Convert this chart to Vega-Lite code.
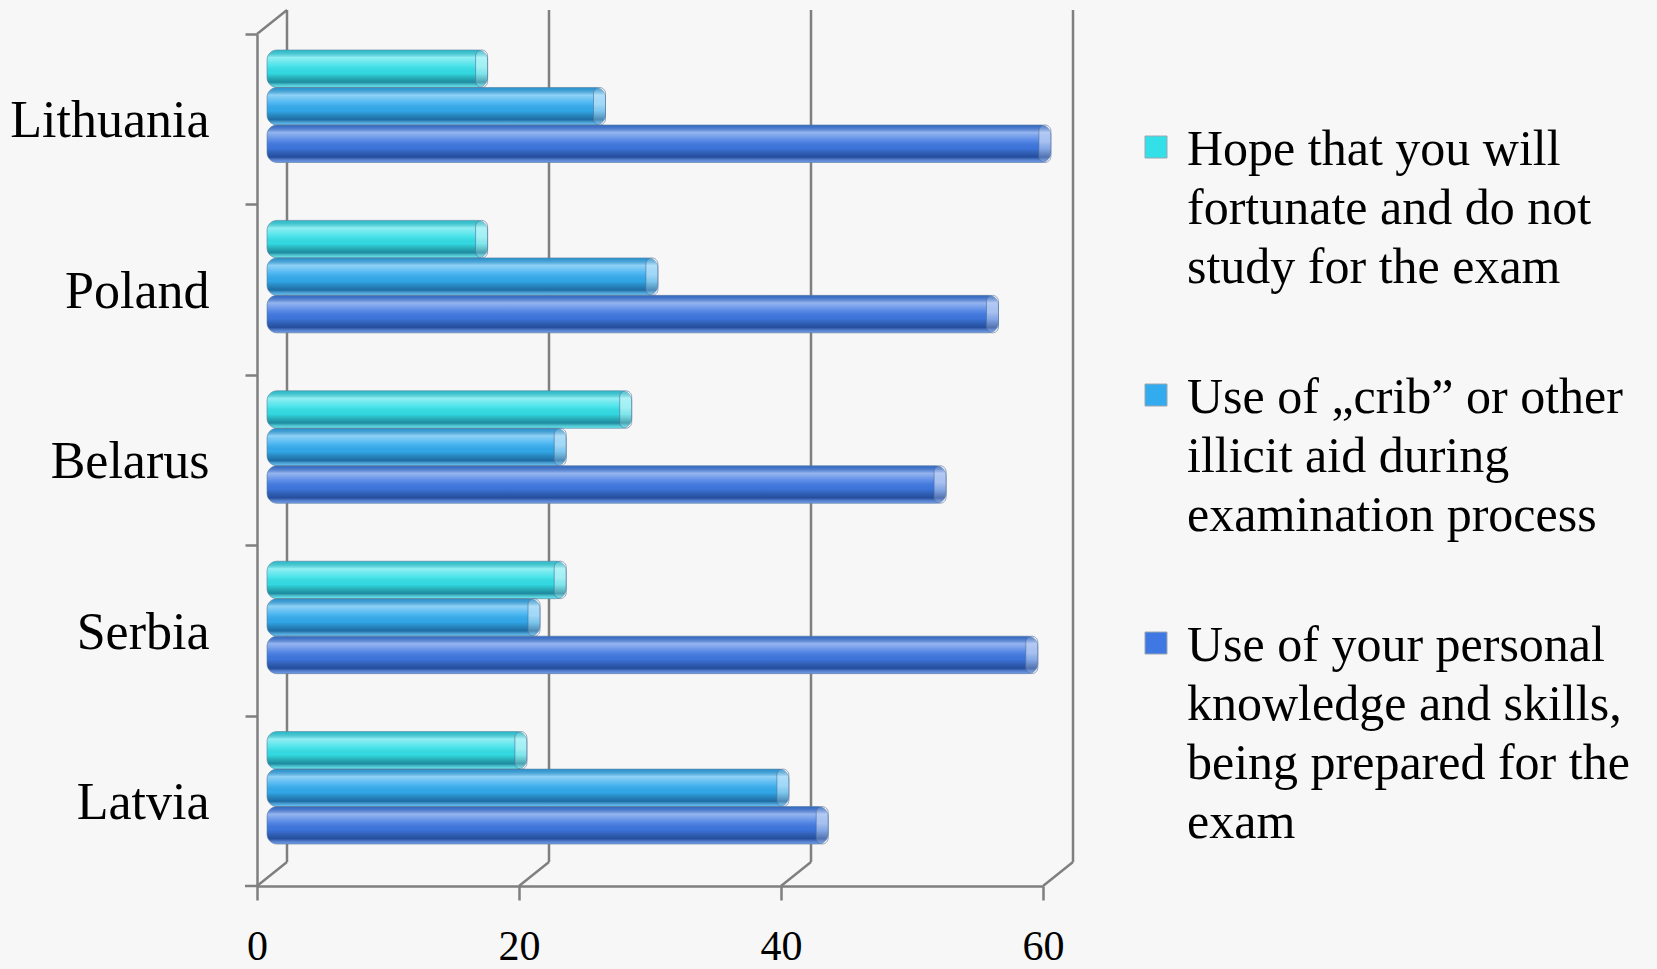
{
  "$schema": "https://vega.github.io/schema/vega-lite/v6.json",
  "width": 786,
  "height": 852,
  "autosize": {"type": "none"},
  "padding": {"left": 257, "top": 34, "right": 614, "bottom": 83},
  "background": "#f7f7f7",
  "datasets": {
    "answers": [
      {"country": "Lithuania", "series": "Hope that you will fortunate and do not study for the exam", "value": 16},
      {"country": "Lithuania", "series": "Use of „crib” or other illicit aid during examination process", "value": 25},
      {"country": "Lithuania", "series": "Use of your personal knowledge and skills, being prepared for the exam", "value": 59},
      {"country": "Poland", "series": "Hope that you will fortunate and do not study for the exam", "value": 16},
      {"country": "Poland", "series": "Use of „crib” or other illicit aid during examination process", "value": 29},
      {"country": "Poland", "series": "Use of your personal knowledge and skills, being prepared for the exam", "value": 55},
      {"country": "Belarus", "series": "Hope that you will fortunate and do not study for the exam", "value": 27},
      {"country": "Belarus", "series": "Use of „crib” or other illicit aid during examination process", "value": 22},
      {"country": "Belarus", "series": "Use of your personal knowledge and skills, being prepared for the exam", "value": 51},
      {"country": "Serbia", "series": "Hope that you will fortunate and do not study for the exam", "value": 22},
      {"country": "Serbia", "series": "Use of „crib” or other illicit aid during examination process", "value": 20},
      {"country": "Serbia", "series": "Use of your personal knowledge and skills, being prepared for the exam", "value": 58},
      {"country": "Latvia", "series": "Hope that you will fortunate and do not study for the exam", "value": 19},
      {"country": "Latvia", "series": "Use of „crib” or other illicit aid during examination process", "value": 39},
      {"country": "Latvia", "series": "Use of your personal knowledge and skills, being prepared for the exam", "value": 42}
    ],
    "ticks": [{"v": 0}, {"v": 20}, {"v": 40}, {"v": 60}]
  },
  "config": {
    "font": "Liberation Serif",
    "view": {"stroke": null},
    "axis": {
      "domainColor": "#7f7f7f",
      "domainWidth": 2.5,
      "tickColor": "#7f7f7f",
      "tickWidth": 2.5,
      "labelFont": "Liberation Serif",
      "labelColor": "#000000",
      "grid": false,
      "title": null
    },
    "axisX": {"tickSize": 14, "labelPadding": 46, "labelBaseline": "middle", "labelFlush": false, "labelFontSize": 42},
    "axisY": {"tickSize": 12, "labelPadding": 36, "labelFontSize": 52, "labelLimit": 400},
    "legend": {
      "orient": "none",
      "legendX": 874,
      "legendY": 88,
      "title": null,
      "padding": 0,
      "symbolType": "square",
      "symbolSize": 484,
      "symbolStrokeColor": "#9aa6b0",
      "symbolStrokeWidth": 1,
      "labelFont": "Liberation Serif",
      "labelFontSize": 50,
      "labelColor": "#000000",
      "labelLimit": 600,
      "labelOffset": 6,
      "labelBaseline": "top",
      "rowPadding": 77
    }
  },
  "layer": [
    {
      "data": {"name": "ticks"},
      "mark": {"type": "rule", "color": "#7f7f7f", "strokeWidth": 2.5, "xOffset": 30, "yOffset": -24, "y2Offset": -24},
      "encoding": {
        "x": {"field": "v", "type": "quantitative", "axis": {"title": null}},
        "y": {"value": 0},
        "y2": {"value": "height"}
      }
    },
    {
      "data": {"name": "ticks"},
      "mark": {"type": "rule", "color": "#7f7f7f", "strokeWidth": 2.5, "x2Offset": 30, "y2Offset": -24},
      "encoding": {
        "x": {"field": "v", "type": "quantitative", "axis": {"title": null}},
        "x2": {"field": "v"},
        "y": {"value": "height"},
        "y2": {"value": "height"}
      }
    },
    {
      "data": {"name": "ticks"},
      "transform": [{"filter": "datum.v == 0"}],
      "mark": {"type": "rule", "color": "#7f7f7f", "strokeWidth": 2.5, "x2Offset": 30, "y2Offset": -24},
      "encoding": {
        "x": {"field": "v", "type": "quantitative", "axis": {"title": null}},
        "x2": {"field": "v"},
        "y": {"value": 0},
        "y2": {"value": 0}
      }
    },
    {
      "data": {"name": "ticks"},
      "transform": [{"filter": "datum.v == 0"}],
      "mark": {"type": "rule", "color": "#7f7f7f", "strokeWidth": 2.5, "xOffset": -12},
      "encoding": {
        "x": {"field": "v", "type": "quantitative", "axis": {"title": null}},
        "x2": {"field": "v"},
        "y": {"value": "height"},
        "y2": {"value": "height"}
      }
    },
    {
      "data": {"name": "answers"},
      "mark": {"type": "bar", "cornerRadius": 10, "xOffset": 21, "x2Offset": 10},
      "encoding": {
        "y": {
          "field": "country", "type": "nominal",
          "sort": ["Lithuania", "Poland", "Belarus", "Serbia", "Latvia"],
          "scale": {"paddingInner": 0.34, "paddingOuter": 0.17, "align": 0.276},
          "axis": {"title": null, "bandPosition": 0, "tickOffset": -16, "labelOffset": 30.75}
        },
        "yOffset": {
          "field": "series", "type": "nominal",
          "sort": [
            "Hope that you will fortunate and do not study for the exam",
            "Use of „crib” or other illicit aid during examination process",
            "Use of your personal knowledge and skills, being prepared for the exam"
          ],
          "scale": {"paddingInner": 0, "paddingOuter": 0}
        },
        "x": {
          "field": "value", "type": "quantitative", "stack": null,
          "scale": {"domain": [0, 60], "nice": false},
          "axis": {"title": null, "values": [0, 20, 40, 60]}
        },
        "x2": {"datum": 0},
        "color": {
          "field": "series", "type": "nominal",
          "sort": [
            "Hope that you will fortunate and do not study for the exam",
            "Use of „crib” or other illicit aid during examination process",
            "Use of your personal knowledge and skills, being prepared for the exam"
          ],
          "scale": {"range": ["#34e0e8", "#33acef", "#3f78e2"]},
          "legend": {
            "labelExpr": "datum.label == 'Hope that you will fortunate and do not study for the exam' ? ['Hope that you will', 'fortunate and do not', 'study for the exam'] : datum.label == 'Use of „crib” or other illicit aid during examination process' ? ['Use of „crib” or other', 'illicit aid during', 'examination process'] : ['\u2002Use of your personal', 'knowledge and skills,', 'being prepared for the', 'exam']",
            "encode": {"labels": {"update": {"lineHeight": {"value": 59}, "dy": {"value": -22}}}}
          }
        }
      }
    },
    {
      "data": {"name": "answers"},
      "mark": {
        "type": "bar", "cornerRadius": 10, "xOffset": 21, "x2Offset": 10,
        "stroke": "#5f7f9c", "strokeOpacity": 0.6, "strokeWidth": 1,
        "fill": {
          "gradient": "linear", "x1": 0, "y1": 0, "x2": 0, "y2": 1,
          "stops": [
            {"offset": 0, "color": "rgba(0,40,70,0.18)"},
            {"offset": 0.2, "color": "rgba(255,255,255,0.45)"},
            {"offset": 0.42, "color": "rgba(255,255,255,0.12)"},
            {"offset": 0.62, "color": "rgba(0,0,0,0.03)"},
            {"offset": 0.86, "color": "rgba(0,20,60,0.42)"},
            {"offset": 1, "color": "rgba(255,255,255,0.25)"}
          ]
        }
      },
      "encoding": {
        "y": {"field": "country", "type": "nominal", "sort": ["Lithuania", "Poland", "Belarus", "Serbia", "Latvia"]},
        "yOffset": {
          "field": "series", "type": "nominal",
          "sort": [
            "Hope that you will fortunate and do not study for the exam",
            "Use of „crib” or other illicit aid during examination process",
            "Use of your personal knowledge and skills, being prepared for the exam"
          ]
        },
        "x": {"field": "value", "type": "quantitative", "stack": null},
        "x2": {"datum": 0}
      }
    },
    {
      "data": {"name": "answers"},
      "mark": {
        "type": "bar", "cornerRadius": 6, "xOffset": 21, "x2Offset": 9,
        "stroke": "#4f6f9c", "strokeOpacity": 0.6, "strokeWidth": 1,
        "fill": {
          "gradient": "linear", "x1": 0, "y1": 0, "x2": 0, "y2": 1,
          "stops": [
            {"offset": 0, "color": "rgba(255,255,255,0.15)"},
            {"offset": 0.45, "color": "rgba(255,255,255,0.5)"},
            {"offset": 1, "color": "rgba(255,255,255,0.1)"}
          ]
        }
      },
      "encoding": {
        "y": {"field": "country", "type": "nominal", "sort": ["Lithuania", "Poland", "Belarus", "Serbia", "Latvia"]},
        "yOffset": {
          "field": "series", "type": "nominal",
          "sort": [
            "Hope that you will fortunate and do not study for the exam",
            "Use of „crib” or other illicit aid during examination process",
            "Use of your personal knowledge and skills, being prepared for the exam"
          ]
        },
        "x": {"field": "value", "type": "quantitative", "stack": null},
        "x2": {"field": "value"}
      }
    }
  ]
}
